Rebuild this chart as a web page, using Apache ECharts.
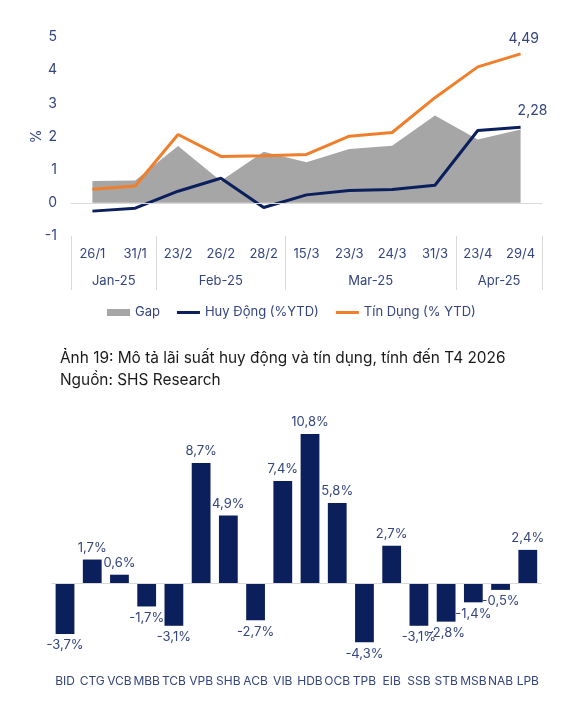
<!DOCTYPE html>
<html>
<head>
<meta charset="utf-8">
<script src="https://cdn.jsdelivr.net/npm/echarts@6/dist/echarts.min.js"></script>
<style>
html,body{margin:0;padding:0;background:#fff;}
#c{width:572px;height:712px;}
</style>
</head>
<body>
<div id="c"></div>
<script>
// ---- Top chart data ----
var dates = ['26/1','31/1','23/2','26/2','28/2','15/3','23/3','24/3','31/3','23/4','29/4'];
var monthGroups = ['Jan-25','Feb-25','Mar-25','Apr-25'];
var monthSizes = [2,3,4,2];
var gap = [0.66,0.67,1.71,0.66,1.54,1.22,1.62,1.72,2.63,1.91,2.21];
var huyDong = [-0.25,-0.16,0.35,0.74,-0.14,0.24,0.37,0.40,0.53,2.18,2.28];
var tinDung = [0.41,0.51,2.06,1.40,1.42,1.46,2.01,2.12,3.17,4.10,4.49];
var yTicks = [-1,0,1,2,3,4,5];

// ---- Bottom chart data ----
var banks = ['BID','CTG','VCB','MBB','TCB','VPB','SHB','ACB','VIB','HDB','OCB','TPB','EIB','SSB','STB','MSB','NAB','LPB'];
var bankVals = [-3.7,1.7,0.6,-1.7,-3.1,8.7,4.9,-2.7,7.4,10.8,5.8,-4.3,2.7,-3.1,-2.8,-1.4,-0.5,2.4];

var caption = 'Ảnh 19: Mô tả lãi suất huy động và tín dụng, tính đến T4 2026\nNguồn: SHS Research';

var FONT = 'Inter';
var LBL = '#34457f';
var NAVY = '#0b1f5c';
var ORANGE = '#f07f2c';
var GREY = '#a6a6a6';
var LINEGREY = '#d9d9d9';

// boundaries of month groups (category index of first item in each group)
var boundaries = [];
var acc = 0;
monthSizes.forEach(function(s){ boundaries.push(acc); acc += s; });
// month label positions on a 0..N value axis (group centers)
var monthPos = {};
acc = 0;
monthSizes.forEach(function(s, i){ monthPos[(acc + s/2).toFixed(1)] = monthGroups[i]; acc += s; });

function fmtNum(v, d){ return v.toFixed(d).replace('.', ','); }

var LINE_ICON = 'path://M0,0L23,0L23,3L0,3Z';

var chart = echarts.init(document.getElementById('c'), null, {renderer: 'canvas'});
var option = {
  backgroundColor: '#fff',
  animation: false,
  textStyle: { fontFamily: FONT },
  title: [{
    text: caption,
    left: 55, top: 342,
    textStyle: { fontFamily: FONT, fontSize: 15.4, fontWeight: 'normal', color: '#1a1a1a', lineHeight: 22.5 }
  }],
  legend: {
    left: 102, top: 301,
    itemGap: 17,
    itemWidth: 23, itemHeight: 7,
    textStyle: { fontFamily: FONT, fontSize: 13, color: LBL },
    data: [
      { name: 'Gap', icon: 'rect' },
      { name: 'Huy Động (%YTD)', icon: LINE_ICON },
      { name: 'Tín Dụng (% YTD)', icon: LINE_ICON }
    ]
  },
  grid: [
    { left: 71, top: 37, width: 471, height: 199 },
    { left: 51.4, top: 431.2, width: 490, height: 234.6 }
  ],
  xAxis: [
    {
      type: 'category', gridIndex: 0, data: dates, position: 'bottom',
      axisLine: { show: false, onZero: false },
      axisTick: { show: true, length: 54, lineStyle: { color: LINEGREY },
        interval: function(i){ return boundaries.indexOf(i) >= 0; } },
      axisLabel: { interval: 0, margin: 12, fontSize: 13, color: LBL, fontFamily: FONT }
    },
    {
      type: 'value', gridIndex: 0, min: 0, max: dates.length, interval: 0.5, position: 'bottom', offset: 27,
      axisLine: { show: false, onZero: false }, axisTick: { show: false }, splitLine: { show: false },
      axisLabel: { margin: 12, fontSize: 13, color: LBL, fontFamily: FONT, showMinLabel: true, showMaxLabel: true,
        formatter: function(v){ return monthPos[v.toFixed(1)] || ''; } }
    },
    {
      type: 'category', gridIndex: 1, data: banks, position: 'bottom',
      axisLine: { show: false, onZero: false }, axisTick: { show: false },
      axisLabel: { interval: 0, margin: 10, fontSize: 12, color: LBL, fontFamily: FONT }
    }
  ],
  yAxis: [
    {
      type: 'value', gridIndex: 0, min: yTicks[0], max: yTicks[yTicks.length-1], interval: 1,
      axisLine: { show: false }, axisTick: { show: false }, splitLine: { show: false },
      axisLabel: { fontSize: 14, color: LBL, margin: 14, fontFamily: FONT },
      name: '%', nameLocation: 'middle', nameGap: 27, nameRotate: 90, nameMoveOverlap: false,
      nameTextStyle: { fontSize: 14, color: LBL, fontFamily: FONT }
    },
    {
      type: 'value', gridIndex: 1, min: -6, max: 11, show: false,
      splitLine: { show: false }
    }
  ],
  series: [
    {
      name: 'Gap', type: 'line', xAxisIndex: 0, yAxisIndex: 0, data: gap,
      symbol: 'none', lineStyle: { width: 0 }, itemStyle: { color: GREY },
      areaStyle: { color: GREY, opacity: 1 }, z: 1,
      markLine: { silent: true, symbol: 'none', label: { show: false },
        lineStyle: { color: LINEGREY, width: 1, type: 'solid' }, data: [{ yAxis: 0 }] }
    },
    {
      name: 'Huy Động (%YTD)', type: 'line', xAxisIndex: 0, yAxisIndex: 0,
      data: huyDong,
      symbol: 'none', lineStyle: { width: 3, color: NAVY }, itemStyle: { color: NAVY }, z: 3,
      endLabel: { show: true, distance: 0, offset: [-3, -16], fontSize: 14, color: LBL, fontFamily: FONT,
        formatter: function(p){ return fmtNum(p.value, 2); } }
    },
    {
      name: 'Tín Dụng (% YTD)', type: 'line', xAxisIndex: 0, yAxisIndex: 0,
      data: tinDung,
      symbol: 'none', lineStyle: { width: 3, color: ORANGE }, itemStyle: { color: ORANGE }, z: 4,
      endLabel: { show: true, distance: 0, offset: [-12, -15], fontSize: 14, color: LBL, fontFamily: FONT,
        formatter: function(p){ return fmtNum(p.value, 2); } }
    },
    {
      name: 'Banks', type: 'bar', xAxisIndex: 2, yAxisIndex: 1,
      barWidth: '69%',
      itemStyle: { color: NAVY },
      data: bankVals.map(function(v){
        return { value: v, label: { position: v >= 0 ? 'top' : 'bottom' } };
      }),
      label: { show: true, distance: 5, fontSize: 13, color: LBL, fontFamily: FONT,
        formatter: function(p){ return fmtNum(p.value, 1) + '%'; } },
      markLine: { silent: true, symbol: 'none', label: { show: false },
        lineStyle: { color: LINEGREY, width: 1, type: 'solid' }, data: [{ yAxis: 0 }] }
    }
  ]
};
chart.setOption(option);
</script>
</body>
</html>
